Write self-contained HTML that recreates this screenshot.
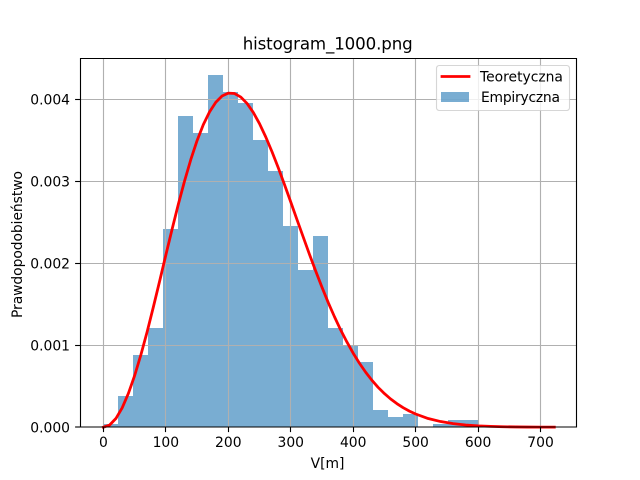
<!DOCTYPE html>
<html lang="pl">
<head>
<meta charset="utf-8">
<title>histogram_1000.png</title>
<style>
html,body{margin:0;padding:0;background:#fff;width:640px;height:480px;overflow:hidden}
svg{display:block}
text{font-family:"DejaVu Sans","Liberation Sans",sans-serif;fill:#000}
</style>
</head>
<body>
<svg id="chart" xmlns="http://www.w3.org/2000/svg" width="640" height="480" viewBox="0 0 640 480"></svg>
<script>
const binEdges = [0,24,48,72,96,120,144,168,192,216,240,264,288,312,336,360,384,408,432,456,480,504,528,552,576,600];
const empiricalDensity = [0.00004,0.000384,0.00088,0.00121,0.002417,0.003795,0.003588,0.004295,0.004088,0.003954,0.003502,0.003124,0.002454,0.001917,0.002332,0.00121,0.00099,0.000795,0.00021,0.000125,0.000161,0,0.00004,0.000088,0.000088];
const curveSpeed = [0,10,20,30,40,50,60,70,80,90,100,110,120,130,140,150,160,170,180,190,200,210,220,230,240,250,260,270,280,290,300,310,320,330,340,350,360,370,380,390,400,410,420,430,440,450,460,470,480,490,500,520,540,560,580,600,620,640,660,680,700,722];
const curveDensity = [0,0.00002665,0.0001058,0.0002353,0.0004113,0.000629,0.000882,0.001163,0.001466,0.00178,0.0021,0.002415,0.002719,0.003004,0.003265,0.003495,0.00369,0.003846,0.003963,0.004039,0.004074,0.004069,0.004026,0.003948,0.003839,0.003701,0.003539,0.003359,0.003164,0.002958,0.002746,0.002531,0.002319,0.002107,0.001903,0.001706,0.00152,0.001347,0.001185,0.001038,0.000902,0.00078,0.00067,0.000572,0.000485,0.00041,0.000344,0.000287,0.000238,0.000196,0.000161,0.000106,0.000069,0.000044,0.000027,0.000016,0.0000097,0.0000056,0.0000032,0.0000018,0.000001,0.0000005];
const xTickValues = [0,100,200,300,400,500,600,700];
const xTickLabels = ["0","100","200","300","400","500","600","700"];
const yTickValues = [0,0.001,0.002,0.003,0.004];
const yTickLabels = ["0.000","0.001","0.002","0.003","0.004"];

const NS = "http://www.w3.org/2000/svg";
const svg = document.getElementById("chart");
const AX = {left:80, right:576, top:58, bottom:427};
function xScale(v){ return 103.4 + v * 0.6245; }
function yScale(v){ return 427.2 - v * 82000; }
function snapX(p){ return Math.floor(p) + 0.5; }
function snapY(p){ return Math.min(Math.floor(p) + 0.5, 427); }
function make(tag, attrs, parent){
  const el = document.createElementNS(NS, tag);
  for (const k in attrs) el.setAttribute(k, attrs[k]);
  (parent || svg).appendChild(el);
  return el;
}
function group(){
  return make("g", {});
}

// bars (below the grid, as in the reference)
const barsGroup = group();


empiricalDensity.forEach(function(v, i){
  if (v <= 0) return;
  const x0 = Math.round(xScale(binEdges[i]));
  const x1 = Math.round(xScale(binEdges[i + 1]));
  const yT = Math.round(yScale(v));
  const yB = Math.round(yScale(0));
  const r = make("rect", {x:x0, y:yT, width:x1 - x0, height:yB - yT, fill:"#1f77b4", "fill-opacity":0.6, "shape-rendering":"crispEdges"}, barsGroup);
  
  
});

// grid
const gridGroup = group();


xTickValues.forEach(function(v){
  const x = snapX(xScale(v));
  const l = make("line", {x1:x, x2:x, y1:AX.top, y2:AX.bottom, stroke:"#b0b0b0", "stroke-width":1.11}, gridGroup);
  
  
});
yTickValues.forEach(function(v){
  const y = snapY(yScale(v));
  const l = make("line", {x1:AX.left, x2:AX.right, y1:y, y2:y, stroke:"#b0b0b0", "stroke-width":1.11}, gridGroup);
  
  
});

// theoretical curve
const curvePoints = curveSpeed.map(function(s, i){
  return xScale(s).toFixed(2) + "," + yScale(curveDensity[i]).toFixed(2);
}).join(" ");
const curve = make("polyline", {points:curvePoints, fill:"none", stroke:"#ff0000", "stroke-width":2.78, "stroke-linecap":"square", "stroke-linejoin":"round"});



// spines
const spineGroup = group();


[[80.5,58,80.5,427.5],[576.5,58,576.5,427.5],[80,58.5,577,58.5],[80,427,577,427]].forEach(function(s){
  const l = make("line", {x1:s[0], y1:s[1], x2:s[2], y2:s[3], stroke:"#000", "stroke-width":1.11}, spineGroup);
  
  
});

// x ticks
const xAxisGroup = group();


xTickValues.forEach(function(v, i){
  const x = snapX(xScale(v));
  const t = make("line", {x1:x, x2:x, y1:427.2, y2:432.1, stroke:"#000", "stroke-width":1.11}, xAxisGroup);
  
  
  const lb = make("text", {x:xScale(v), y:447, "text-anchor":"middle", "font-size":"13.89px"}, xAxisGroup);
  lb.textContent = xTickLabels[i];
  
  
});

// y ticks
const yAxisGroup = group();


yTickValues.forEach(function(v, i){
  const y = snapY(yScale(v));
  const t = make("line", {x1:75.1, x2:80, y1:y, y2:y, stroke:"#000", "stroke-width":1.11}, yAxisGroup);
  
  
  const lb = make("text", {x:70, y:yScale(v) + 5.5, "text-anchor":"end", "font-size":"13.89px"}, yAxisGroup);
  lb.textContent = yTickLabels[i];
  
  
});

// legend
const legend = group();


const legendBox = make("rect", {x:436.5, y:65.5, width:133, height:45, rx:2.8, ry:2.8, fill:"#fff", "fill-opacity":0.8, stroke:"#ccc", "stroke-opacity":0.8, "stroke-width":1.11}, legend);


const legendLine = make("line", {x1:442, x2:469, y1:76.5, y2:76.5, stroke:"#ff0000", "stroke-width":2.78, "stroke-linecap":"square"}, legend);


const legendText1 = make("text", {x:480, y:81.5, "font-size":"13.89px"}, legend);
legendText1.textContent = "Teoretyczna";


const legendPatch = make("rect", {x:441, y:92, width:28, height:10, fill:"#1f77b4", "fill-opacity":0.6, "shape-rendering":"crispEdges"}, legend);


const legendText2 = make("text", {x:481, y:102, "font-size":"13.89px", textLength:79, lengthAdjust:"spacing"}, legend);
legendText2.textContent = "Empiryczna";



// titles
const title = make("text", {x:327.7, y:49.6, "text-anchor":"middle", "font-size":"16.67px", textLength:170, lengthAdjust:"spacing"});
title.textContent = "histogram_1000.png";


const xTitle = make("text", {x:327.5, y:468, "text-anchor":"middle", "font-size":"13.89px"});
xTitle.textContent = "V[m]";


const yTitle = make("text", {x:0, y:0, "text-anchor":"middle", "font-size":"13.89px", textLength:147, lengthAdjust:"spacing", transform:"translate(22,244.5) rotate(-90)"});
yTitle.textContent = "Prawdopodobieństwo";


</script>
</body>
</html>
